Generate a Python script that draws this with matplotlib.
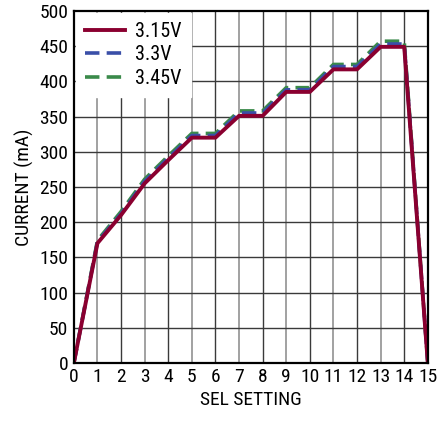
import matplotlib
matplotlib.use("Agg")
import matplotlib.pyplot as plt

plt.rcParams['font.family'] = ['Roboto Condensed', 'Liberation Sans', 'DejaVu Sans']

sel = list(range(16))
i_315 = [0, 170, 210, 255, 288, 320, 320, 351, 351, 385, 385, 417, 417, 449, 449, 0]
i_33 = [0, 172, 212, 258, 291, 323, 323, 355, 355, 388, 388, 421, 421, 453, 453, 0]
i_345 = [0, 174, 215, 261, 294, 326, 326, 358, 358, 391, 391, 424, 424, 457, 457, 0]

fig = plt.figure(figsize=(4.37, 4.21), dpi=100)
ax = fig.add_axes([0.169, 0.138, 0.81, 0.836])

# grid: alternating dark/grey verticals
for x in range(1, 15):
    ax.axvline(x, color='#9a9a9a' if x % 2 else '#3a3a3a', lw=1.3 if x % 2 else 1.0, zorder=0)
for y in range(50, 500, 50):
    ax.axhline(y, color='#3a3a3a', lw=1.0, zorder=0)

ax.plot(sel, i_345, color='#3a8a4a', lw=2.6, dashes=(4, 2), label='3.45V', zorder=3)
ax.plot(sel, i_33, color='#3a4fa8', lw=2.6, dashes=(4, 2), label='3.3V', zorder=4)
ax.plot(sel, i_315, color='#8a0030', lw=2.8, label='3.15V', zorder=5)

h, l = ax.get_legend_handles_labels()
leg = ax.legend(h[::-1], l[::-1], loc='upper left', fontsize=14.5, frameon=True,
                fancybox=False, edgecolor='white', framealpha=1, handlelength=2.0,
                borderaxespad=0.1, borderpad=0.45, labelspacing=0.22, handletextpad=0.5)
leg.set_zorder(10)

ax.set_xlim(0, 15)
ax.set_ylim(0, 500)
ax.set_xticks(range(16))
ax.set_yticks(range(0, 501, 50))
ax.tick_params(length=0, labelsize=14, pad=4)
for s in ax.spines.values():
    s.set_linewidth(1.6)
    s.set_zorder(11)
ax.set_xlabel('SEL SETTING', fontsize=14, labelpad=3)
ax.set_ylabel('CURRENT (mA)', fontsize=14, labelpad=4)

fig.savefig('out.png', dpi=100)
